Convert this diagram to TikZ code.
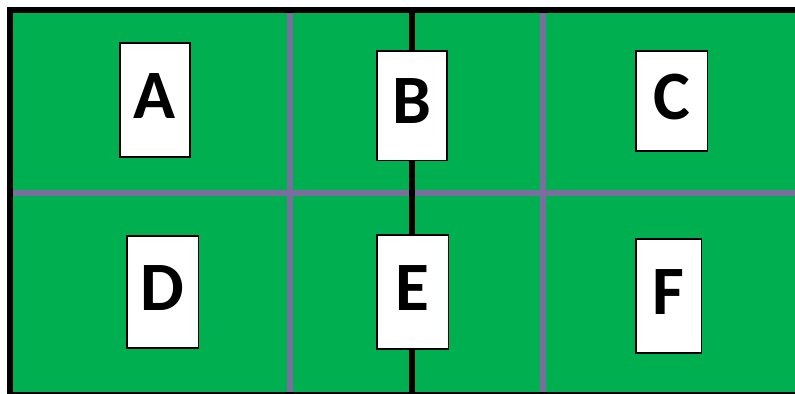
\documentclass[tikz,border=0pt]{standalone}
\usepackage{fontspec}
\setmainfont{Carlito}
\usepackage{xcolor}
\definecolor{fieldgreen}{HTML}{00B050}
\definecolor{gridpurple}{RGB}{122,110,158}

\begin{document}
\begin{tikzpicture}[x=0.75pt, y=-0.75pt,
    card/.style={draw, line width=0.8pt, fill=white, rectangle, minimum width=52.5pt,
                 text depth=6pt, font=\fontsize{52}{52}\selectfont\bfseries}]

    \useasboundingbox (0,0) rectangle (795,393);
    \clip (0,0) rectangle (795,393);

    % field and grid
    \fill [fieldgreen] (10,10) rectangle (810,394);
    \draw [gridpurple, line width=3.8pt] (10,193) -- (810,193);
    \draw [gridpurple, line width=3.8pt] (290,10) -- (290,394);
    \draw [gridpurple, line width=3.8pt] (543,10) -- (543,394);
    \draw [black, line width=4.8pt] (412,10) -- (412,394);
    \draw [black, line width=4.5pt] (810,10) -- (10,10) -- (10,395) -- (810,395);

    % cards
    \node [card, minimum height=85.5pt] (a) at (155,100) {A};
    \node [card, minimum height=81.8pt] (b) at (412,105.5) {B};
    \node [card, minimum height=75pt, minimum width=53.3pt] (c) at (671.5,101) {C};
    \node [card, minimum height=84pt, minimum width=53.3pt] (d) at (162.5,292) {D};
    \node [card, minimum height=85.5pt, minimum width=53.3pt] (e) at (412.5,292) {E};
    \node [card, minimum height=85.5pt, minimum width=48.8pt] (f) at (668.5,296) {F};
\end{tikzpicture}
\end{document}
